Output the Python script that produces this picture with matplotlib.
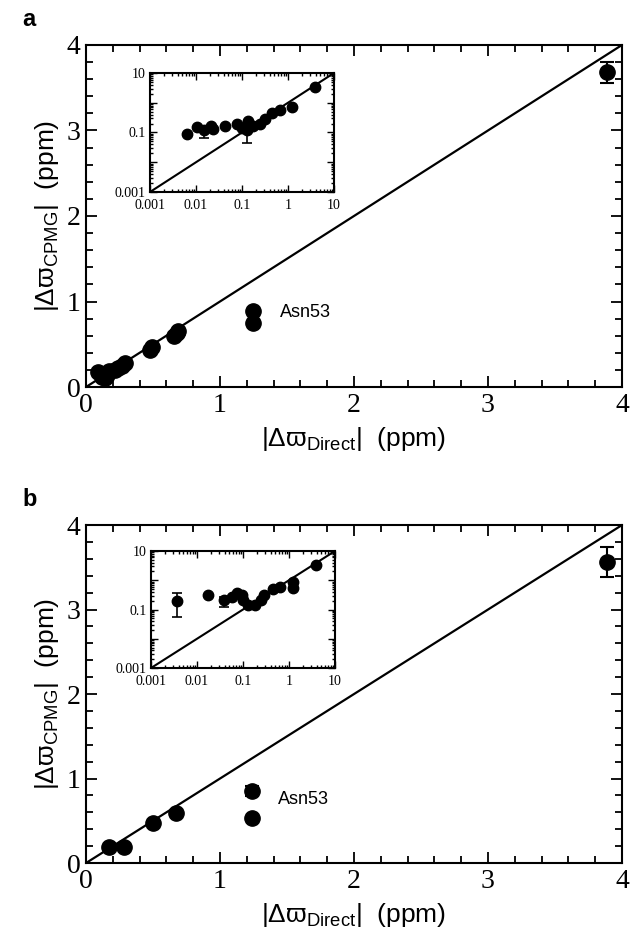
import matplotlib
matplotlib.use("Agg")
import matplotlib.pyplot as plt
from matplotlib.ticker import MultipleLocator, LogLocator, NullFormatter
import numpy as np

plt.rcParams['font.family'] = ['Liberation Sans', 'DejaVu Sans']
plt.rcParams['mathtext.default'] = 'regular'

# panel a, main
xa = [0.09, 0.12, 0.14, 0.155, 0.17, 0.22, 0.24, 0.27, 0.29, 0.48, 0.49, 0.66, 0.68, 0.69, 1.25, 1.25, 3.89]
ya = [0.18, 0.12, 0.10, 0.14, 0.19, 0.20, 0.22, 0.25, 0.28, 0.43, 0.47, 0.60, 0.63, 0.66, 0.89, 0.75, 3.68]
ea = [0, 0, 0, 0, 0, 0, 0, 0, 0, 0, 0, 0, 0, 0, 0, 0, 0.12]
# panel a, inset
xa_in = [0.0065, 0.0103, 0.015, 0.021, 0.024, 0.042, 0.077, 0.10, 0.126, 0.137, 0.177, 0.245, 0.317, 0.46, 0.67, 1.2, 3.9]
ya_in = [0.089, 0.15, 0.12, 0.166, 0.13, 0.17, 0.19, 0.14, 0.12, 0.25, 0.16, 0.19, 0.28, 0.46, 0.57, 0.74, 3.3]
ea_lo = [0, 0, 0.055, 0, 0, 0, 0, 0, 0.077, 0, 0, 0, 0, 0, 0, 0, 0]
ea_hi = [0, 0, 0.03, 0, 0, 0, 0, 0, 0.03, 0, 0, 0, 0, 0, 0, 0, 0]

# panel b, main
xb = [0.17, 0.28, 0.50, 0.67, 1.24, 1.24, 3.89]
yb = [0.19, 0.19, 0.47, 0.59, 0.85, 0.53, 3.56]
eb = [0, 0, 0, 0.03, 0.06, 0, 0.175]
# panel b, inset
xb_in = [0.0037, 0.0176, 0.039, 0.057, 0.073, 0.093, 0.10, 0.13, 0.18, 0.25, 0.28, 0.46, 0.64, 1.25, 1.25, 3.8]
yb_in = [0.2, 0.31, 0.21, 0.27, 0.36, 0.31, 0.21, 0.14, 0.14, 0.21, 0.31, 0.49, 0.6, 0.89, 0.53, 3.3]
eb_lo = [0.146, 0, 0.085, 0, 0, 0, 0, 0, 0, 0, 0, 0, 0, 0, 0, 0]
eb_hi = [0.16, 0, 0.06, 0, 0, 0, 0, 0, 0, 0, 0, 0, 0, 0, 0, 0]

serif = 'Liberation Serif'

fig = plt.figure(figsize=(6.31, 9.43), dpi=100)


def main_panel(rect, x, y, e, asn_xy, letter):
    ax = fig.add_axes(rect)
    ax.plot([0, 4], [0, 4], color='black', lw=1.6, zorder=1)
    ax.errorbar(x, y, yerr=e, fmt='o', color='black', ms=11, capsize=5,
                elinewidth=1.5, capthick=1.5, zorder=3)
    ax.set_xlim(0, 4)
    ax.set_ylim(0, 4)
    ax.xaxis.set_major_locator(MultipleLocator(1))
    ax.yaxis.set_major_locator(MultipleLocator(1))
    ax.xaxis.set_minor_locator(MultipleLocator(0.2))
    ax.yaxis.set_minor_locator(MultipleLocator(0.2))
    ax.tick_params(which='both', direction='in', top=True, right=True, width=1.3)
    ax.tick_params(which='major', length=8, labelsize=20, pad=4)
    ax.tick_params(which='minor', length=5)
    for lab in ax.get_xticklabels() + ax.get_yticklabels():
        lab.set_fontfamily(serif)
    for s in ax.spines.values():
        s.set_linewidth(1.5)
    ax.set_xlabel(r'|Δϖ$_{\mathregular{Direct}}$|  (ppm)', fontsize=19, labelpad=5)
    ax.set_ylabel(r'|Δϖ$_{\mathregular{CPMG}}$|  (ppm)', fontsize=19, labelpad=4)
    ax.text(asn_xy[0], asn_xy[1], 'Asn53', fontsize=13, va='center', ha='left')
    fig.text(0.035, rect[1] + rect[3] + 0.027, letter, fontsize=17, fontweight='bold',
             va='center', ha='left')
    return ax


def inset(rect, x, y, lo, hi):
    ax = fig.add_axes(rect)
    ax.plot([0.001, 10], [0.001, 10], color='black', lw=1.5, zorder=1)
    ax.errorbar(x, y, yerr=[lo, hi], fmt='o', color='black', ms=7.5, capsize=3.5,
                elinewidth=1.2, capthick=1.2, zorder=3)
    ax.set_xscale('log')
    ax.set_yscale('log')
    ax.set_xlim(0.001, 10)
    ax.set_ylim(0.001, 10)
    ax.set_xticks([0.001, 0.01, 0.1, 1, 10])
    ax.set_xticklabels(['0.001', '0.01', '0.1', '1', '10'])
    ax.set_yticks([0.001, 0.01, 0.1, 1, 10])
    ax.set_yticklabels(['0.001', '', '0.1', '', '10'])
    ax.xaxis.set_minor_locator(LogLocator(base=10, subs=np.arange(2, 10)))
    ax.yaxis.set_minor_locator(LogLocator(base=10, subs=np.arange(2, 10)))
    ax.xaxis.set_minor_formatter(NullFormatter())
    ax.yaxis.set_minor_formatter(NullFormatter())
    ax.tick_params(which='both', direction='in', top=True, right=True, width=1.0)
    ax.tick_params(which='major', length=5, labelsize=10)
    ax.tick_params(axis='x', which='major', pad=5)
    ax.tick_params(axis='y', which='major', pad=3)
    ax.tick_params(which='minor', length=2.5)
    for lab in ax.get_xticklabels() + ax.get_yticklabels():
        lab.set_fontfamily(serif)
    for s in ax.spines.values():
        s.set_linewidth(1.5)
    return ax


main_panel([0.1363, 0.5896, 0.8494, 0.3627], xa, ya, ea, (1.45, 0.87), 'a')
inset([0.2377, 0.7964, 0.2916, 0.1262], xa_in, ya_in, ea_lo, ea_hi)

main_panel([0.1363, 0.0848, 0.8494, 0.3584], xb, yb, eb, (1.43, 0.75), 'b')
inset([0.2393, 0.2916, 0.2916, 0.1241], xb_in, yb_in, eb_lo, eb_hi)

fig.savefig('out.png', dpi=100)
